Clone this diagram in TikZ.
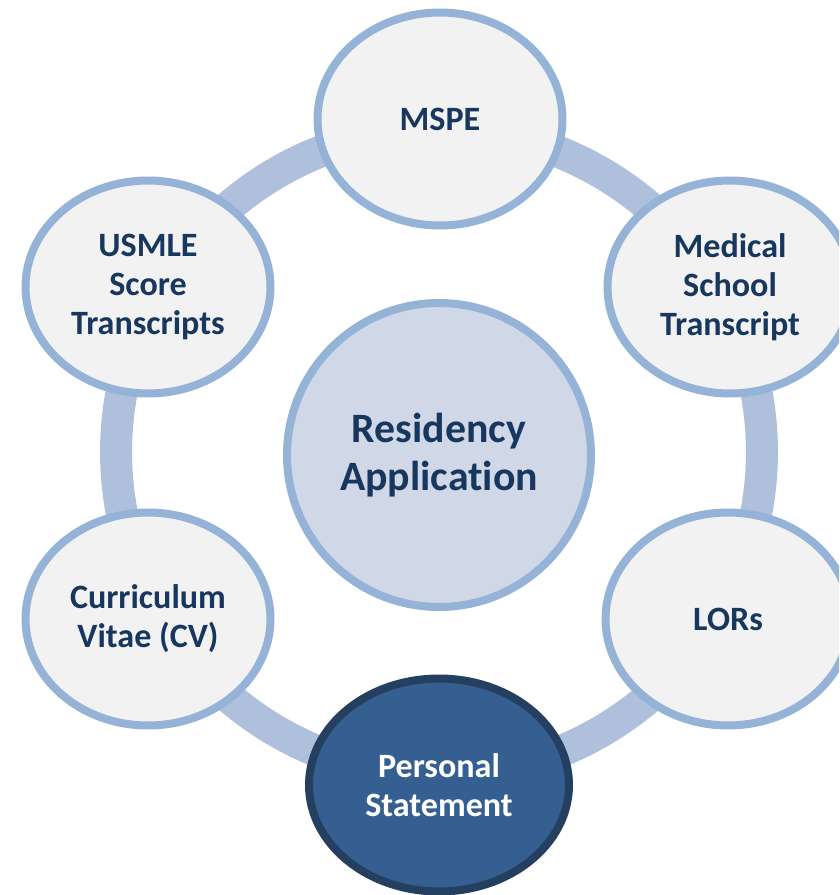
\documentclass[tikz,border=0pt]{standalone}
\usepackage{fontspec}
\setmainfont[Ligatures=NoCommon]{Carlito}
\usetikzlibrary{shapes.geometric}

\definecolor{navy}{HTML}{17375E}
\definecolor{rim}{HTML}{95B3D7}
\definecolor{band}{HTML}{AFC0DC}
\definecolor{bubble}{HTML}{F2F2F2}
\definecolor{hub}{HTML}{D0D8E8}
\definecolor{deep}{HTML}{365F91}
\definecolor{deeprim}{HTML}{243F60}

\begin{document}
\begin{tikzpicture}[x=0.02cm, y=-0.02cm]
		\tikzstyle{Item} = [ellipse, minimum width=4.9cm, minimum height=4.26cm, inner sep=0pt, align=center, draw=rim, line width=0.16cm, fill=bubble, text=navy, font=\fontsize{19.4}{22.3}\selectfont\bfseries]
		\tikzstyle{Hub} = [circle, minimum size=6.08cm, inner sep=0pt, align=center, draw=rim, line width=0.16cm, fill=hub, text=navy, font=\fontsize{23.8}{27}\selectfont\bfseries]
		\tikzstyle{Focus} = [Item, minimum width=5.2cm, fill=deep, draw=deeprim, text=white]
		
		\clip (0,0) rectangle (839,895);
		\fill [white] (0,0) rectangle (839,895);
		
		% ring behind the items
		\draw [band, line width=0.64cm] (439,452) circle [radius=6.46cm];
		
		\node (app) [Hub] at (439,455) {Residency\\Application};
		
		\node (mspe) [Item] at (440,119) {MSPE};
		\node (transcript) [Item] at (730,287) {Medical\\School\\Transcript};
		\node (lors) [Item] at (728,619) {LORs};
		\node (statement) [Focus] at (439,785) {Personal\\Statement};
		\node (cv) [Item] at (148,619) {Curriculum\\Vitae (CV)};
		\node (usmle) [Item] at (148,287) {USMLE\\Score\\Transcripts};
\end{tikzpicture}
\end{document}
